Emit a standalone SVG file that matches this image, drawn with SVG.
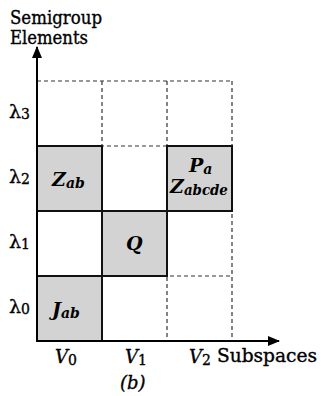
<svg xmlns="http://www.w3.org/2000/svg" width="321" height="396" viewBox="0 0 321 396">
<style>
.dash{stroke:#333;stroke-width:1.2;stroke-dasharray:4 3;fill:none}
.cell{fill:#d3d3d3;stroke:#111;stroke-width:2}
.ax{stroke:#000;stroke-width:2;fill:none}
.lbl{font-family:"DejaVu Serif","Liberation Serif",serif;font-size:18px;fill:#000;stroke:#000;stroke-width:0.35}
.lam{font-family:"DejaVu Serif","Liberation Serif",serif;font-size:19px;fill:#000;stroke:#000;stroke-width:0.35}
.mb{font-family:"DejaVu Serif","Liberation Serif",serif;font-weight:bold;font-style:italic;font-size:19px;fill:#000}
.vi{font-family:"DejaVu Serif","Liberation Serif",serif;font-style:italic;font-size:18px;fill:#000;stroke:#000;stroke-width:0.35}
</style>
<defs>
<marker id="ah" viewBox="0 0 12 10" refX="11" refY="5" markerWidth="12" markerHeight="10" markerUnits="userSpaceOnUse" orient="auto">
<path d="M0,0 L12,5 L0,10 Z" fill="#000"/>
</marker>
</defs>
<g id="grid">
<path class="dash" d="M37,81 H232 M37,146 H232 M37,211 H232 M37,276 H232 M102,81 V341 M167,81 V341 M232,81 V341"/>
</g>
<g id="cell-Zab">
<rect class="cell" x="37" y="146" width="65" height="65"/>
<text class="mb" x="52" y="186">Z<tspan font-size="14" dy="2">ab</tspan></text>
</g>
<g id="cell-PZ">
<rect class="cell" x="167" y="146" width="65" height="65"/>
<text class="mb" x="189" y="172">P<tspan font-size="14" dy="2">a</tspan></text>
<text class="mb" x="170" y="193">Z<tspan font-size="14" dy="2" textLength="44" lengthAdjust="spacingAndGlyphs">abcde</tspan></text>
</g>
<g id="cell-Q">
<rect class="cell" x="102" y="211" width="65" height="65"/>
<text class="mb" x="126" y="250">Q</text>
</g>
<g id="cell-Jab">
<rect class="cell" x="37" y="276" width="65" height="65"/>
<text class="mb" x="52" y="316">J<tspan font-size="14" dy="2">ab</tspan></text>
</g>
<g id="axes">
<line class="ax" x1="37" y1="341" x2="37" y2="47" marker-end="url(#ah)"/>
<line class="ax" x1="37" y1="341" x2="279" y2="341" marker-end="url(#ah)"/>
</g>
<g id="labels">
<text class="lbl" x="10" y="24" textLength="92" lengthAdjust="spacingAndGlyphs">Semigroup</text>
<text class="lbl" x="10" y="44" textLength="78" lengthAdjust="spacingAndGlyphs">Elements</text>
<text class="lam" x="9" y="118">λ<tspan font-size="14" dy="1">3</tspan></text>
<text class="lam" x="9" y="183">λ<tspan font-size="14" dy="1">2</tspan></text>
<text class="lam" x="9" y="248">λ<tspan font-size="14" dy="1">1</tspan></text>
<text class="lam" x="9" y="313">λ<tspan font-size="14" dy="1">0</tspan></text>
<text class="vi" x="55" y="363">V<tspan font-size="14" font-style="normal" dy="2">0</tspan></text>
<text class="vi" x="125" y="363">V<tspan font-size="14" font-style="normal" dy="2">1</tspan></text>
<text class="vi" x="189" y="363">V<tspan font-size="14" font-style="normal" dy="2">2</tspan></text>
<text class="lbl" x="217" y="362" textLength="100" lengthAdjust="spacingAndGlyphs">Subspaces</text>
<text class="vi" x="120" y="389" font-size="19">(b)</text>
</g>
</svg>
